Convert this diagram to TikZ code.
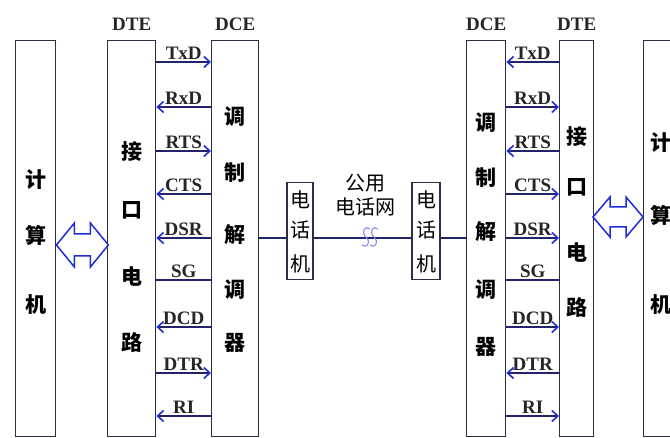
\documentclass[tikz,border=0pt]{standalone}
\usepackage{fontspec}
\setmainfont{Liberation Serif}
\newfontfamily\cjk{Noto Sans CJK SC}
\usetikzlibrary{arrows.meta, positioning, calc}

\definecolor{edgegray}{RGB}{45,45,65}
\definecolor{wirenavy}{RGB}{35,35,105}
\definecolor{tipblue}{RGB}{30,45,215}

\begin{document}
\begin{tikzpicture}[x=1pt, y=-1pt,
    node distance=8pt,
    box/.style={rectangle, draw=edgegray, line width=1.4pt, fill=white, anchor=north west, minimum height=396pt, inner sep=0pt},
    phone/.style={rectangle, draw=edgegray, line width=1.2pt, fill=white, minimum height=97pt, inner sep=0pt},
    zi/.style={font=\cjk\bfseries\fontsize{21}{21}\selectfont, inner sep=0pt},
    thinzi/.style={font=\cjk\fontsize{20}{24}\selectfont, inner sep=0pt},
    tag/.style={font=\bfseries\fontsize{19}{19}\selectfont, inner sep=1.5pt, text=black!85},
    sig/.style={draw=wirenavy, line width=1.2pt},
    todce/.style={-{Straight Barb[color=tipblue, length=6pt, width=11pt, line width=1.6pt]}},
    todte/.style={{Straight Barb[color=tipblue, length=6pt, width=11pt, line width=1.6pt]}-},
    nodir/.style={},
    wire/.style={draw=wirenavy, line width=1.2pt},
    dblarrow/.style={draw=tipblue, line width=1.5pt, line join=miter, fill=white}
]
    \useasboundingbox (0,0) rectangle (670,438);
    \clip (0,0) rectangle (670,438);

    % the six tall boxes
    \node[box, minimum width=40pt] (pcL) at (15,40) {};
    \node[box, minimum width=48pt] (dteL) at (107,40) {};
    \node[box, minimum width=47pt] (dceL) at (211,40) {};
    \node[box, minimum width=39pt] (dceR) at (466,40) {};
    \node[box, minimum width=34pt] (dteR) at (559,40) {};
    \node[box, minimum width=34pt] (pcR) at (643,40) {};

    \node[tag, above=of dteL] (dteLtag) {DTE};
    \node[tag, above=of dceL] (dceLtag) {DCE};
    \node[tag, above=of dceR] (dceRtag) {DCE};
    \node[tag, above=of dteR] (dteRtag) {DTE};

    % vertical texts
    \foreach \c/\y [count=\i] in {计/180, 算/235, 机/305}
        \node[zi] (pcL-\i) at (pcL.north |- 0,\y) {\c};
    \foreach \c/\y [count=\i] in {接/152, 口/210, 电/277, 路/342}
        \node[zi] (dteL-\i) at (dteL.north |- 0,\y) {\c};
    \foreach \c/\y [count=\i] in {调/117, 制/173, 解/235, 调/290, 器/343}
        \node[zi] (dceL-\i) at (dceL.north |- 0,\y) {\c};
    \foreach \c/\y [count=\i] in {调/123, 制/178, 解/232, 调/290, 器/347}
        \node[zi] (dceR-\i) at (dceR.north |- 0,\y) {\c};
    \foreach \c/\y [count=\i] in {接/137, 口/187, 电/253, 路/307}
        \node[zi] (dteR-\i) at (dteR.north |- 0,\y) {\c};
    \foreach \c/\y [count=\i] in {计/143, 算/215, 机/305}
        \node[zi] (pcR-\i) at (pcR.north |- 0,\y) {\c};

    % interface signals
    \foreach \s/\y/\d in {TxD/62/todce, RxD/107/todte, RTS/151/todce, CTS/194/todte,
                          DSR/238/todte, SG/280/nodir, DCD/327/todte, DTR/373/todce, RI/416/todte} {
        \draw[sig, \d] (dteL.east |- 0,\y) -- (dceL.west |- 0,\y) node[midway, above, tag] (\s-L) {\s};
        \draw[sig, \d] (dteR.west |- 0,\y) -- (dceR.east |- 0,\y) node[midway, above, tag] (\s-R) {\s};
    }

    % computer <-> interface
    \draw[dblarrow] (pcL.east |- 0,245) -- ++(18,-22) -- ++(0,11) -- ++(16,0) -- ++(0,-11)
        -- ++(18,22) -- ++(-18,22) -- ++(0,-11) -- ++(-16,0) -- ++(0,11) -- cycle;
    \draw[dblarrow] (pcR.west |- 0,217) -- ++(-17,-20) -- ++(0,10) -- ++(-16,0) -- ++(0,-10)
        -- ++(-17,20) -- ++(17,20) -- ++(0,-10) -- ++(16,0) -- ++(0,10) -- cycle;

    % telephones and network
    \node[phone, minimum width=26pt] (telL) at (300,231) {};
    \node[phone, minimum width=28pt] (telR) at (426,231) {};
    \foreach \c/\y [count=\i] in {电/200, 话/230, 机/264} {
        \node[thinzi] (telL-\i) at (telL.north |- 0,\y) {\c};
        \node[thinzi] (telR-\i) at (telR.north |- 0,\y) {\c};
    }
    \node[thinzi, align=center] (pstn) at (365,195) {公用\\电话网};

    \draw[wire] (dceL.east |- 0,238) -- (telL.west |- 0,238);
    \draw[wire] (telL.east |- 0,238) -- (telR.west |- 0,238);
    \draw[wire] (telR.east |- 0,238) -- (dceR.west |- 0,238);
    \foreach \bx in {366,374}
        \draw[tipblue!55, line width=1.1pt] (\bx+4,229) .. controls (\bx,225) and (\bx-6,231) .. (\bx,237)
            .. controls (\bx+6,243) and (\bx,249) .. (\bx-4,245);
\end{tikzpicture}
\end{document}
